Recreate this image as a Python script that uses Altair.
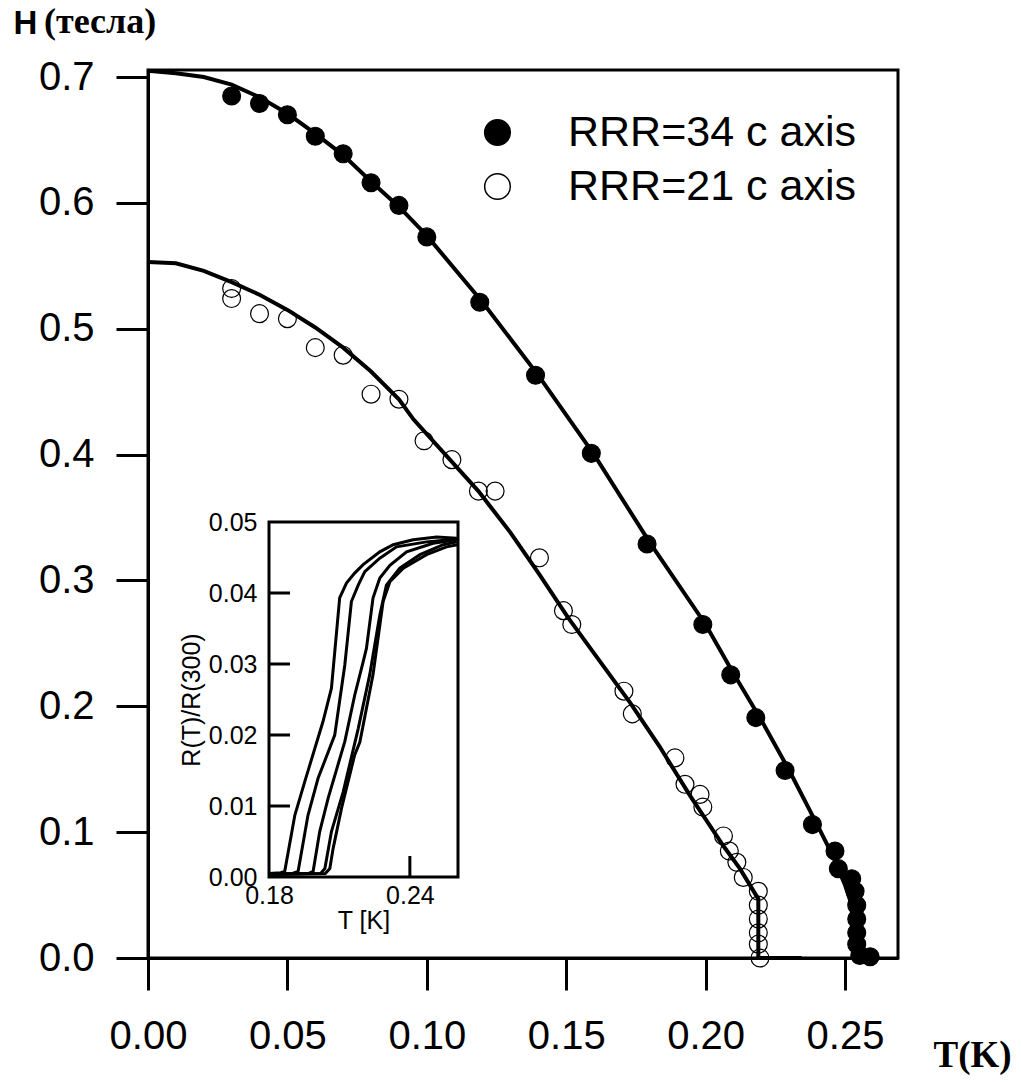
import altair as alt
import pandas as pd

# ---------------- data ----------------
S34 = "RRR=34 c axis"
S21 = "RRR=21 c axis"

# measured points, RRR=34 (filled)
T34 = [0.030, 0.040, 0.050, 0.060, 0.070, 0.080, 0.090, 0.100, 0.119, 0.139, 0.159, 0.179,
       0.199, 0.209, 0.218, 0.2285, 0.2383, 0.2464, 0.2476, 0.2524, 0.2536, 0.2542, 0.2542,
       0.2542, 0.2542, 0.2553, 0.259]
H34 = [0.685, 0.679, 0.670, 0.653, 0.639, 0.616, 0.598, 0.573, 0.521, 0.463, 0.401, 0.329,
       0.265, 0.225, 0.191, 0.149, 0.106, 0.085, 0.071, 0.063, 0.053, 0.042, 0.031,
       0.020, 0.011, 0.002, 0.001]

# measured points, RRR=21 (open)
T21 = [0.030, 0.030, 0.040, 0.050, 0.060, 0.070, 0.080, 0.090, 0.099, 0.109, 0.1185, 0.1245,
       0.1404, 0.149, 0.152, 0.1707, 0.1737, 0.189, 0.1926, 0.198, 0.199, 0.2064, 0.2085,
       0.2112, 0.2135, 0.2189, 0.2189, 0.2189, 0.2189, 0.2189, 0.2195]
H21 = [0.532, 0.524, 0.512, 0.508, 0.485, 0.479, 0.448, 0.444, 0.411, 0.396, 0.371, 0.371,
       0.318, 0.276, 0.265, 0.212, 0.194, 0.159, 0.138, 0.130, 0.120, 0.097, 0.085,
       0.076, 0.064, 0.053, 0.042, 0.031, 0.020, 0.011, 0.000]

# fitted curves
TF34 = [0.0, 0.01, 0.02, 0.03, 0.04, 0.05, 0.06, 0.07, 0.08, 0.09, 0.10, 0.12, 0.14, 0.16,
        0.18, 0.20, 0.21, 0.22, 0.23, 0.24, 0.245, 0.25, 0.253, 0.2545, 0.2553, 0.256]
HF34 = [0.705, 0.703, 0.700, 0.694, 0.684, 0.671, 0.655, 0.638, 0.617, 0.597, 0.574, 0.521,
        0.463, 0.400, 0.330, 0.265, 0.226, 0.189, 0.149, 0.106, 0.084, 0.058, 0.038, 0.022,
        0.010, 0.0]

TF21 = [0.0, 0.01, 0.02, 0.03, 0.04, 0.05, 0.06, 0.07, 0.08, 0.09, 0.0952, 0.1185, 0.13,
        0.14, 0.1508, 0.16, 0.1729, 0.1835, 0.1944, 0.2064, 0.2123, 0.2189, 0.2189, 0.2345]
HF21 = [0.553, 0.552, 0.546, 0.537, 0.527, 0.515, 0.501, 0.485, 0.466, 0.444, 0.428, 0.371,
        0.338, 0.306, 0.270, 0.242, 0.203, 0.168, 0.129, 0.089, 0.071, 0.047, 0.0, 0.0]

# inset: R(T)/R(300) vs T for several fields
INSET_T = [
    [0.180, 0.185, 0.1867, 0.191, 0.1952, 0.203, 0.2066, 0.2101, 0.2130, 0.2165, 0.2201,
     0.2272, 0.2329, 0.2414, 0.2514, 0.2600],
    [0.180, 0.190, 0.1924, 0.1966, 0.2009, 0.208, 0.2123, 0.2151, 0.218, 0.2208, 0.2272,
     0.2343, 0.2471, 0.2600],
    [0.180, 0.197, 0.1988, 0.2016, 0.2052, 0.2123, 0.2165, 0.2201, 0.2215, 0.2243, 0.2272,
     0.2315, 0.2386, 0.2499, 0.2600],
    [0.180, 0.202, 0.2038, 0.2066, 0.2116, 0.2180, 0.2229, 0.2272, 0.2300, 0.2357, 0.2443,
     0.2542, 0.2600],
    [0.180, 0.204, 0.2059, 0.2073, 0.2109, 0.2165, 0.2187, 0.2243, 0.2286, 0.2315, 0.2372,
     0.2471, 0.2556, 0.2603],
]
INSET_R = [
    [0.0005, 0.0006, 0.0008, 0.0087, 0.0134, 0.0219, 0.0266, 0.0393, 0.0414, 0.0428, 0.0440,
     0.0458, 0.0468, 0.0475, 0.0479, 0.0477],
    [0.0004, 0.0005, 0.0008, 0.0087, 0.0139, 0.0200, 0.0299, 0.0388, 0.0411, 0.0430, 0.0449,
     0.0465, 0.0472, 0.0476],
    [0.0004, 0.0005, 0.0008, 0.0064, 0.0111, 0.0191, 0.0256, 0.0303, 0.0322, 0.0393, 0.0421,
     0.0439, 0.0458, 0.0470, 0.0475],
    [0.0004, 0.0005, 0.0012, 0.0064, 0.0120, 0.0209, 0.0285, 0.0369, 0.0411, 0.0435, 0.0454,
     0.0468, 0.0472],
    [0.0004, 0.0005, 0.0012, 0.0040, 0.0097, 0.0172, 0.0190, 0.0285, 0.0388, 0.0416, 0.0435,
     0.0454, 0.0465, 0.0468],
]

MAIN_XTICKS = [0.0, 0.05, 0.10, 0.15, 0.20, 0.25]
MAIN_YTICKS = [0.0, 0.1, 0.2, 0.3, 0.4, 0.5, 0.6, 0.7]
INSET_XTICKS = [0.18, 0.24]
INSET_YTICKS = [0.00, 0.01, 0.02, 0.03, 0.04, 0.05]
INSET_INNER_YTICKS = [0.01, 0.02, 0.03, 0.04]
INSET_INNER_XTICKS = [0.24]

# ---------------- tables ----------------
pts = pd.DataFrame(
    {"T": T34 + T21, "H": H34 + H21, "series": [S34] * len(T34) + [S21] * len(T21)}
)
fits = pd.DataFrame(
    {
        "T": TF34 + TF21,
        "H": HF34 + HF21,
        "series": [S34] * len(TF34) + [S21] * len(TF21),
        "ord": list(range(len(TF34))) + list(range(len(TF21))),
    }
)
rows = []
for i, (ts, rs) in enumerate(zip(INSET_T, INSET_R)):
    for j, (t, r) in enumerate(zip(ts, rs)):
        rows.append({"T": t, "R": r, "curve": i, "ord": j})
inset_df = pd.DataFrame(rows)
frame_df = pd.DataFrame({"x0": [0.18], "x1": [0.2605], "y0": [0.0], "y1": [0.05]})
ytick_df = pd.DataFrame({"T": [0.18] * len(INSET_INNER_YTICKS), "R": INSET_INNER_YTICKS})
xtick_df = pd.DataFrame({"T": INSET_INNER_XTICKS, "R": [0.0] * len(INSET_INNER_XTICKS)})

W, H = 750, 888
SANS = "Liberation Sans"
SERIF = "Liberation Serif"

# ---------------- main scales / axes ----------------
xs = alt.Scale(domain=[0, 0.269], nice=False, zero=False)
ys = alt.Scale(domain=[0, 0.7056], nice=False, zero=False)
x_axis = alt.Axis(
    orient="bottom", values=MAIN_XTICKS, format=".2f", grid=False,
    labelFont=SANS, labelFontSize=40, labelColor="black", labelPadding=26,
    tickSize=32, tickWidth=3, tickColor="black", domainWidth=3, domainColor="black",
    title="T(K)", titleFont=SERIF, titleFontSize=37, titleFontWeight="bold",
    titleColor="black", titleX=824, titleY=108, titleAlign="center",
    titleBaseline="alphabetic", labelFlush=False,
)
y_axis = alt.Axis(
    orient="left", values=MAIN_YTICKS, format=".1f", grid=False,
    labelFont=SANS, labelFontSize=40, labelColor="black", labelPadding=22,
    tickSize=32, tickWidth=3, tickColor="black", domainWidth=3, domainColor="black",
    title="H", titleFont=SANS, titleFontSize=33, titleFontWeight="bold",
    titleColor="black", titleAngle=0, titleX=-135, titleY=-37, titleAlign="left",
    titleBaseline="alphabetic",
)

X = alt.X("T:Q", scale=xs, axis=x_axis)
Y = alt.Y("H:Q", scale=ys, axis=y_axis)

fit_layer = alt.Chart(fits).mark_line(color="black", strokeWidth=4).encode(
    x=X, y=Y, detail="series:N", order="ord:Q"
)
pt_layer = alt.Chart(pts).mark_point(
    shape="circle", filled=True, size=320, stroke="black", strokeWidth=1.2, opacity=1
).encode(
    x=X,
    y=Y,
    fill=alt.Fill(
        "series:N",
        scale=alt.Scale(domain=[S34, S21], range=["black", "transparent"]),
        legend=alt.Legend(
            title=None, orient="none", legendX=328, legendY=41, padding=0,
            symbolSize=660, symbolStrokeColor="black", symbolStrokeWidth=1.5,
            symbolType="circle", labelFont=SANS, labelFontSize=43, labelColor="black",
            labelOffset=49, rowPadding=10, labelLimit=500,
        ),
    ),
)
unit_text = alt.Chart(alt.Data(values=[{"t": "(тесла)"}])).mark_text(
    align="left", baseline="alphabetic", font=SERIF, fontSize=36, fontWeight="bold",
    color="black",
).encode(x=alt.value(-104), y=alt.value(-37), text="t:N")

main = alt.layer(fit_layer, pt_layer, unit_text)

# ---------------- inset scales / axes ----------------
ixs = alt.Scale(domain=[0.18, 0.2605], range=[121, 310], nice=False, zero=False)
iys = alt.Scale(domain=[0, 0.05], range=[807, 452], nice=False, zero=False)
ix_axis = alt.Axis(
    orient="bottom", offset=-81, values=INSET_XTICKS, format=".2f", grid=False,
    ticks=False, tickSize=0, domain=False, labelFont=SANS, labelFontSize=25,
    labelColor="black", labelPadding=6, labelFlush=False,
    title="T [K]", titleFont=SANS, titleFontSize=25, titleFontWeight="normal",
    titleColor="black", titlePadding=0,
)
iy_axis = alt.Axis(
    orient="left", offset=-121, values=INSET_YTICKS, format=".2f", grid=False,
    ticks=False, tickSize=0, domain=False, labelFont=SANS, labelFontSize=25,
    labelColor="black", labelPadding=12, labelOverlap=False,
    title="R(T)/R(300)", titleFont=SANS, titleFontSize=25, titleFontWeight="normal",
    titleColor="black", titlePadding=4,
)

frame = alt.Chart(frame_df).mark_rect(fill="white", stroke="black", strokeWidth=3).encode(
    x=alt.X("x0:Q", scale=ixs, axis=ix_axis),
    x2="x1:Q",
    y=alt.Y("y0:Q", scale=iys, axis=iy_axis),
    y2="y1:Q",
)
curves = alt.Chart(inset_df).mark_line(color="black", strokeWidth=3).encode(
    x=alt.X("T:Q", scale=ixs, axis=ix_axis),
    y=alt.Y("R:Q", scale=iys, axis=iy_axis),
    detail="curve:N",
    order="ord:Q",
)
yticks = alt.Chart(ytick_df).mark_tick(
    orient="horizontal", size=21, thickness=3, color="black", opacity=1, xOffset=10.5
).encode(x=alt.X("T:Q", scale=ixs, axis=ix_axis), y=alt.Y("R:Q", scale=iys, axis=iy_axis))
xticks = alt.Chart(xtick_df).mark_tick(
    orient="vertical", size=21, thickness=3, color="black", opacity=1, yOffset=-10.5
).encode(x=alt.X("T:Q", scale=ixs, axis=ix_axis), y=alt.Y("R:Q", scale=iys, axis=iy_axis))

inset = alt.layer(frame, curves, yticks, xticks)

chart = (
    alt.layer(main, inset)
    .resolve_scale(x="independent", y="independent")
    .properties(
        width=W,
        height=H,
        padding={"left": 148, "top": 70, "right": 123, "bottom": 124},
        autosize=alt.AutoSizeParams(type="none"),
        background="white",
    )
    .configure_view(stroke="black", strokeWidth=3)
)

chart.save("out.html", embed_options={"renderer": "svg", "actions": False})
